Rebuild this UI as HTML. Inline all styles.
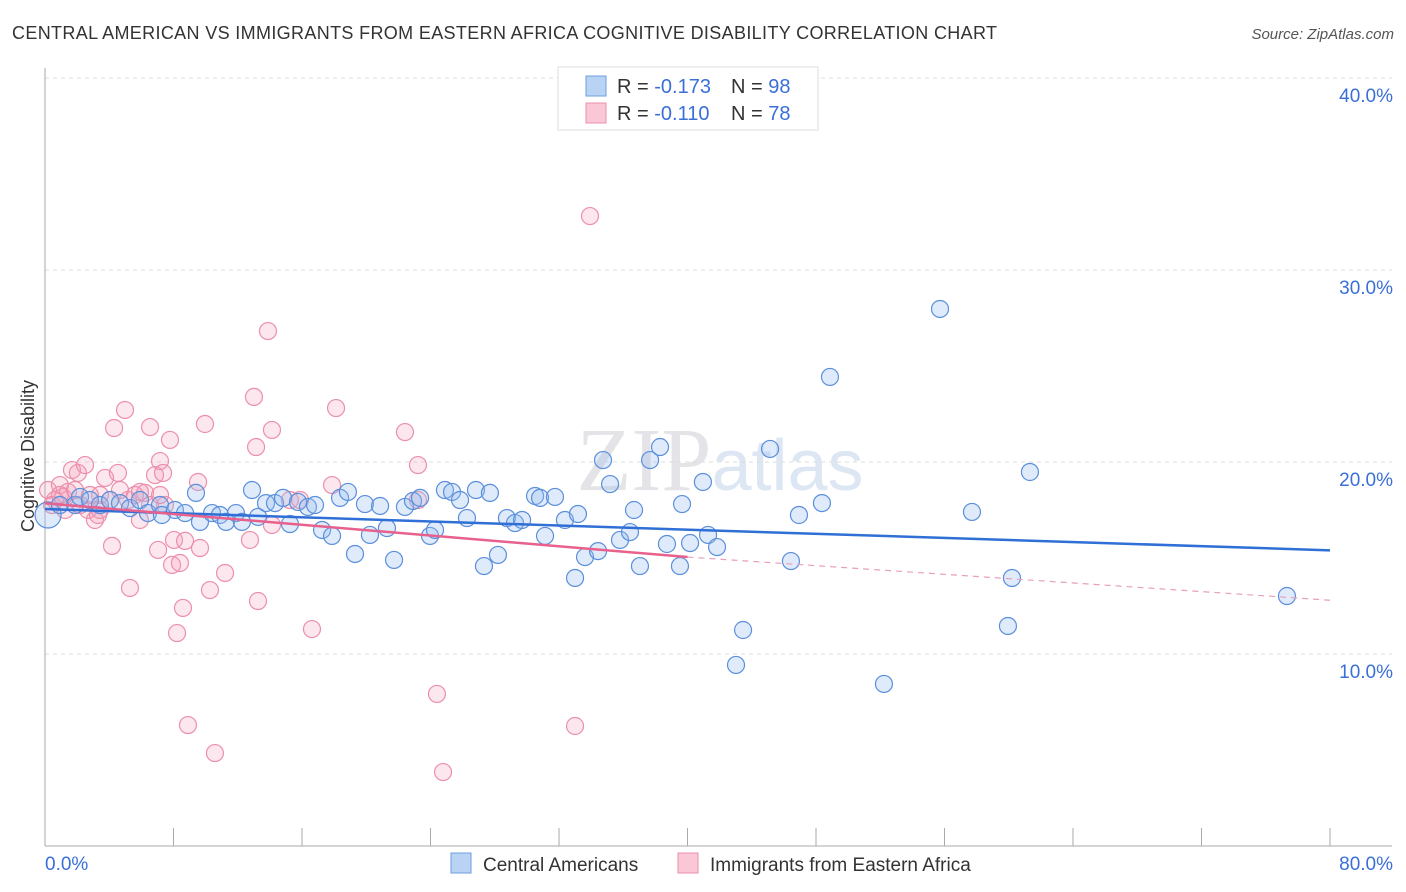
<!DOCTYPE html>
<html><head><meta charset="utf-8"><style>
body{margin:0;background:#fff;font-family:"Liberation Sans",sans-serif}
svg{display:block}
</style></head><body>
<svg id="c" width="1406" height="892">
<text x="12" y="39" font-size="18" fill="#333" textLength="985">CENTRAL AMERICAN VS IMMIGRANTS FROM EASTERN AFRICA COGNITIVE DISABILITY CORRELATION CHART</text>
<text x="1394" y="39" font-size="15" fill="#555" text-anchor="end" font-style="italic">Source: ZipAtlas.com</text>
<text x="720" y="490" font-size="90" fill="#e4e4e8" text-anchor="middle" font-family="Liberation Serif">ZIP<tspan fill="#dde6f3" font-family="Liberation Sans" font-size="72">atlas</tspan></text>
<g id="grid"></g>
<g id="axes"></g>
<g id="marks"></g>
<text transform="translate(34,456) rotate(-90)" font-size="18" fill="#333" text-anchor="middle">Cognitive Disability</text>
<g>
<rect x="558" y="67" width="260" height="63" fill="#fff" stroke="#ddd"/>
<rect x="586" y="76" width="20" height="20" fill="#b9d3f5" stroke="#6e9de0"/>
<rect x="586" y="103" width="20" height="20" fill="#f9c7d5" stroke="#ec8fab"/>
<text x="617" y="93" font-size="20" fill="#333">R = <tspan fill="#3a6fd8">-0.173</tspan></text>
<text x="731" y="93" font-size="20" fill="#333">N = <tspan fill="#3a6fd8">98</tspan></text>
<text x="617" y="120" font-size="20" fill="#333">R = <tspan fill="#3a6fd8">-0.110</tspan></text>
<text x="731" y="120" font-size="20" fill="#333">N = <tspan fill="#3a6fd8">78</tspan></text>
</g>
<g>
<rect x="451" y="853" width="20" height="20" fill="#b9d3f5" stroke="#6e9de0"/>
<text x="483" y="871" font-size="19" fill="#333">Central Americans</text>
<rect x="678" y="853" width="20" height="20" fill="#f9c7d5" stroke="#ec8fab"/>
<text x="710" y="871" font-size="19" fill="#333">Immigrants from Eastern Africa</text>
</g>
</svg>
<script>
const yTicks=[10,20,30,40];
const yTickLabels=["10.0%","20.0%","30.0%","40.0%"];
const xLabels=["0.0%","80.0%"];
const bluePx=[[48,515],[60,505],[75,505],[80,497],[90,500],[100,505],[110,500],[120,503],[130,508],[140,500],[148,513],[160,505],[162,515],[175,510],[185,513],[196,493],[200,522],[212,513],[220,515],[226,522],[236,513],[242,522],[252,490],[258,517],[266,503],[275,503],[283,498],[290,524],[298,502],[308,507],[315,505],[322,530],[332,536],[340,498],[348,492],[355,554],[365,504],[370,535],[380,506],[387,528],[394,560],[405,507],[413,501],[420,498],[430,536],[435,530],[445,490],[452,492],[460,500],[467,518],[476,490],[484,566],[490,493],[498,555],[507,518],[515,523],[522,520],[535,496],[540,498],[545,536],[555,497],[565,520],[575,578],[578,514],[585,557],[598,551],[603,460],[610,484],[620,540],[630,532],[634,510],[640,566],[650,460],[660,447],[667,544],[680,566],[682,504],[690,543],[703,482],[708,535],[717,547],[736,665],[743,630],[770,449],[791,561],[799,515],[822,503],[830,377],[884,684],[940,309],[972,512],[1008,626],[1012,578],[1030,472],[1287,596]];
const pinkPx=[[48,490],[55,500],[60,485],[63,497],[68,492],[72,470],[78,473],[85,465],[88,510],[95,520],[98,515],[105,478],[110,500],[112,546],[114,428],[118,473],[125,410],[128,500],[130,588],[135,495],[140,520],[145,493],[150,427],[155,475],[158,550],[160,461],[163,473],[165,505],[170,440],[172,565],[174,540],[177,633],[180,563],[183,608],[185,541],[188,725],[198,482],[200,548],[205,424],[210,590],[215,753],[225,573],[250,540],[254,397],[256,447],[258,601],[268,331],[272,430],[272,525],[290,500],[300,500],[312,629],[332,485],[336,408],[405,432],[418,465],[418,500],[437,694],[443,772],[575,726],[590,216],[52,505],[65,510],[75,490],[100,495],[120,490],[140,492],[80,505],[90,495],[150,505],[160,495],[100,510],[60,495]];
const toData=p=>[+((p[0]-45)/16.0625).toFixed(2),+((846-p[1])/19.2).toFixed(2)];
const blueX=bluePx.map(p=>toData(p)[0]), blueY=bluePx.map(p=>toData(p)[1]);
const pinkX=pinkPx.map(p=>toData(p)[0]), pinkY=pinkPx.map(p=>toData(p)[1]);
const blueTrend=[[0,17.55],[80,15.4]];
const pinkTrend=[[0,17.85],[40,15.05],[80,12.8]];
const X=v=>45+v*16.0625, Y=v=>846-v*19.2;
const NS="http://www.w3.org/2000/svg";
function mk(t,a,p){const e=document.createElementNS(NS,t);for(const k in a)e.setAttribute(k,a[k]);p.appendChild(e);return e;}
const grid=document.getElementById('grid'),axes=document.getElementById('axes'),marks=document.getElementById('marks');
yTicks.forEach((t,i)=>{
 const l=mk('line',{x1:45,x2:1392,y1:Y(t),y2:Y(t),stroke:'#ddd','stroke-dasharray':'4,4'},grid);
 
 
 const tx=mk('text',{x:1393,y:Y(t)+24,'font-size':19,fill:'#3a6fd8','text-anchor':'end'},axes);
 tx.textContent=yTickLabels[i];
 
 
});
const ya=mk('line',{x1:45,x2:45,y1:68,y2:846,stroke:'#aaa'},axes);


const xa=mk('line',{x1:45,x2:1392,y1:846,y2:846,stroke:'#aaa'},axes);


for(let i=1;i<=10;i++){const t=mk('line',{x1:X(i*8),x2:X(i*8),y1:828,y2:846,stroke:'#aaa'},axes);
 
 }
[[xLabels[0],45,'start'],[xLabels[1],1393,'end']].forEach(a=>{const t=mk('text',{x:a[1],y:870,'font-size':19,fill:'#3a6fd8','text-anchor':a[2]},axes);t.textContent=a[0];
 
 });
function pts(xs,ys,fill,stroke,name){xs.forEach((x,i)=>{const c=mk('circle',{cx:X(x),cy:Y(ys[i]),r:(i===0&&name==='blue-point')?13:8.5,fill:fill,stroke:stroke,'stroke-width':1.2},marks);
 
 });}
pts(pinkX,pinkY,'rgba(244,160,188,0.25)','#ec8fab','pink-point');
pts(blueX,blueY,'rgba(150,190,240,0.3)','#5b8fdc','blue-point');
const bl=mk('line',{x1:X(blueTrend[0][0]),y1:Y(blueTrend[0][1]),x2:X(blueTrend[1][0]),y2:Y(blueTrend[1][1]),stroke:'#2f6fd6','stroke-width':2.5},marks);


const pl=mk('line',{x1:X(pinkTrend[0][0]),y1:Y(pinkTrend[0][1]),x2:X(pinkTrend[1][0]),y2:Y(pinkTrend[1][1]),stroke:'#e8608c','stroke-width':2.5},marks);


const pd=mk('line',{x1:X(pinkTrend[1][0]),y1:Y(pinkTrend[1][1]),x2:X(pinkTrend[2][0]),y2:Y(pinkTrend[2][1]),stroke:'#e8a0b8','stroke-width':1.2,'stroke-dasharray':'6,5'},marks);


</script>
</body></html>
